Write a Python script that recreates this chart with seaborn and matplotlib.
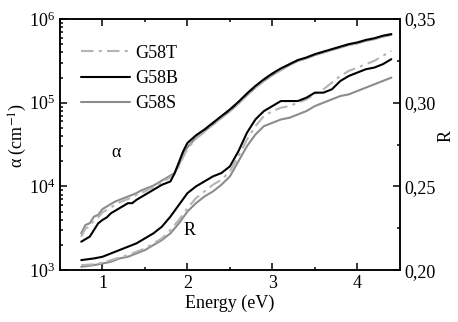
import matplotlib
matplotlib.use("Agg")
import matplotlib.pyplot as plt
import matplotlib.ticker as mticker
import numpy as np
import seaborn as sns
from matplotlib.lines import Line2D

sns.set_theme(style="ticks", context="notebook")
plt.rcParams['font.family'] = ['Liberation Serif', 'DejaVu Serif']
plt.rcParams['mathtext.fontset'] = 'stix'
for key in ['text.color', 'axes.labelcolor', 'xtick.color', 'ytick.color',
            'axes.edgecolor']:
    plt.rcParams[key] = 'black'

# absorption coefficient, log10(alpha / cm^-1)
energy_alpha = [0.75, 0.80, 0.85, 0.90, 0.95, 1.00, 1.05, 1.10, 1.15, 1.20,
                1.25, 1.30, 1.35, 1.40, 1.45, 1.50, 1.55, 1.60, 1.65, 1.70,
                1.75, 1.80, 1.85, 1.90, 1.95, 2.00, 2.10, 2.20, 2.30, 2.40,
                2.50, 2.60, 2.70, 2.80, 2.90, 3.00, 3.10, 3.20, 3.30, 3.40,
                3.50, 3.60, 3.70, 3.80, 3.90, 4.00, 4.10, 4.20, 4.30, 4.40]
log_alpha_T = [3.40, 3.50, 3.52, 3.60, 3.63, 3.69, 3.72, 3.75, 3.78, 3.81,
               3.83, 3.85, 3.87, 3.90, 3.92, 3.94, 3.97, 3.99, 4.02, 4.05,
               4.08, 4.11, 4.15, 4.24, 4.35, 4.45, 4.57, 4.65, 4.74, 4.82,
               4.90, 4.99, 5.09, 5.18, 5.26, 5.33, 5.39, 5.45, 5.50, 5.53,
               5.57, 5.60, 5.63, 5.66, 5.69, 5.71, 5.74, 5.76, 5.79, 5.81]
log_alpha_B = [3.34, 3.37, 3.40, 3.48, 3.56, 3.60, 3.63, 3.68, 3.71, 3.74,
               3.77, 3.80, 3.80, 3.84, 3.87, 3.90, 3.93, 3.96, 3.99, 4.02,
               4.04, 4.06, 4.16, 4.29, 4.42, 4.52, 4.61, 4.68, 4.76, 4.84,
               4.92, 5.01, 5.11, 5.20, 5.28, 5.35, 5.41, 5.46, 5.51, 5.54,
               5.58, 5.61, 5.64, 5.67, 5.70, 5.72, 5.75, 5.77, 5.80, 5.82]
log_alpha_S = [3.44, 3.54, 3.56, 3.64, 3.66, 3.73, 3.76, 3.79, 3.82, 3.84,
               3.86, 3.88, 3.90, 3.92, 3.95, 3.97, 3.99, 4.01, 4.04, 4.07,
               4.10, 4.13, 4.16, 4.26, 4.38, 4.47, 4.58, 4.66, 4.74, 4.82,
               4.90, 4.99, 5.09, 5.18, 5.26, 5.33, 5.39, 5.45, 5.50, 5.53,
               5.57, 5.60, 5.63, 5.66, 5.69, 5.71, 5.74, 5.76, 5.79, 5.81]

# reflectance
energy_R = [0.75, 0.90, 1.00, 1.10, 1.20, 1.30, 1.40, 1.50, 1.60, 1.70,
            1.80, 1.90, 2.00, 2.10, 2.20, 2.30, 2.40, 2.50, 2.60, 2.70,
            2.80, 2.90, 3.00, 3.10, 3.20, 3.30, 3.40, 3.50, 3.60, 3.70,
            3.80, 3.90, 4.00, 4.10, 4.20, 4.30, 4.40]
R_T = [0.203, 0.2035, 0.2045, 0.206, 0.2075, 0.209, 0.211, 0.213, 0.216, 0.219,
       0.224, 0.230, 0.237, 0.243, 0.247, 0.251, 0.254, 0.259, 0.268, 0.278,
       0.286, 0.292, 0.295, 0.297, 0.298, 0.300, 0.302, 0.305, 0.308, 0.312,
       0.316, 0.319, 0.321, 0.323, 0.325, 0.328, 0.331]
R_B = [0.206, 0.207, 0.208, 0.210, 0.212, 0.214, 0.216, 0.219, 0.222, 0.226,
       0.232, 0.239, 0.246, 0.250, 0.253, 0.256, 0.258, 0.262, 0.271, 0.282,
       0.290, 0.295, 0.298, 0.301, 0.301, 0.301, 0.303, 0.306, 0.306, 0.308,
       0.313, 0.316, 0.318, 0.320, 0.321, 0.323, 0.326]
R_S = [0.202, 0.203, 0.204, 0.205, 0.207, 0.208, 0.210, 0.212, 0.215, 0.218,
       0.222, 0.228, 0.235, 0.240, 0.244, 0.247, 0.251, 0.256, 0.265, 0.274,
       0.281, 0.286, 0.288, 0.290, 0.291, 0.293, 0.295, 0.298, 0.300, 0.302,
       0.304, 0.305, 0.307, 0.309, 0.311, 0.313, 0.315]

samples = ['G58T', 'G58B', 'G58S']
colors = {'G58T': '#b4b4b4', 'G58B': '#000000', 'G58S': '#8c8c8c'}
styles = {'G58T': (0, (6, 2.5, 1.5, 2.5)), 'G58B': '-', 'G58S': '-'}

fig = plt.figure(figsize=(4.58, 3.22), dpi=100)
ax = fig.add_axes([0.131, 0.161, 0.742, 0.780])
ax2 = ax.twinx()

alpha_data = {'G58T': log_alpha_T, 'G58B': log_alpha_B, 'G58S': log_alpha_S}
R_data = {'G58T': R_T, 'G58B': R_B, 'G58S': R_S}

for s in ['G58S', 'G58T', 'G58B']:
    sns.lineplot(x=energy_alpha, y=10 ** np.array(alpha_data[s]), ax=ax,
                 color=colors[s], linestyle=styles[s], linewidth=1.5)
    sns.lineplot(x=energy_R, y=R_data[s], ax=ax2,
                 color=colors[s], linestyle=styles[s], linewidth=1.5)

ax.set_yscale('log')
ax.set_xlim(0.5, 4.5)
ax.set_ylim(1e3, 1e6)
ax2.set_ylim(0.20, 0.35)

ax.xaxis.set_major_locator(mticker.MultipleLocator(1))
ax.xaxis.set_minor_locator(mticker.MultipleLocator(0.5))
ax2.yaxis.set_major_locator(mticker.MultipleLocator(0.05))
ax2.yaxis.set_minor_locator(mticker.MultipleLocator(0.025))
ax2.yaxis.set_major_formatter(
    mticker.FuncFormatter(lambda v, p: f"{v:.2f}".replace('.', ',')))

ax.tick_params(which='both', direction='in', top=True, right=False,
               labelsize=13, width=1.1)
ax.tick_params(which='major', length=5)
ax.tick_params(which='minor', length=2.5)
ax2.tick_params(which='both', direction='in', labelsize=13, width=1.1)
ax2.tick_params(which='major', length=5)
ax2.tick_params(which='minor', length=2.5)
for a in (ax, ax2):
    for sp in a.spines.values():
        sp.set_linewidth(1.1)
        sp.set_visible(True)

ax.set_xlabel('Energy (eV)', fontsize=13, labelpad=2)
ax.set_ylabel(r'α (cm$^{-1}$)', fontsize=13)
ax.yaxis.set_label_coords(-0.091, 0.538)
ax2.set_ylabel('R', fontsize=13)
ax2.yaxis.set_label_coords(1.112, 0.534)

ax.text(1.16, 10 ** 4.41, 'α', fontsize=13, ha='center', va='center')
ax.text(2.03, 10 ** 3.47, 'R', fontsize=13, ha='center', va='center')

handles = [Line2D([], [], color=colors[s], linestyle=styles[s], linewidth=1.5)
           for s in samples]
ax.legend(handles, samples, loc='upper left', frameon=False, fontsize=13,
          handlelength=2.7, handletextpad=0.3, labelspacing=0.45,
          borderaxespad=0.4, bbox_to_anchor=(0.02, 0.955))

fig.savefig('out.png', dpi=100)
